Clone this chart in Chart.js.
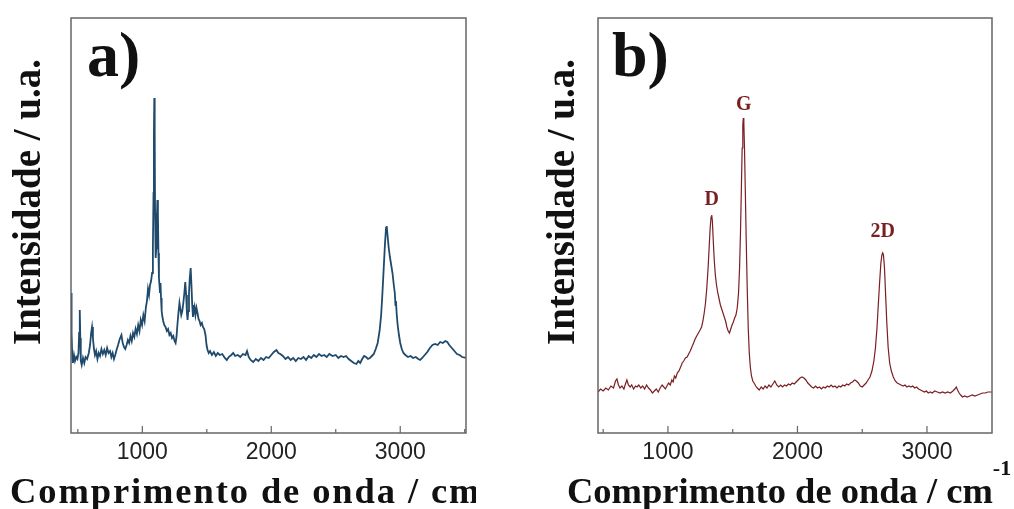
<!DOCTYPE html>
<html>
<head>
<meta charset="utf-8">
<script src="https://cdn.jsdelivr.net/npm/chart.js@4.4.0/dist/chart.umd.min.js"></script>
<style>
  html, body { margin: 0; padding: 0; background: #fff; }
  #wrap { position: relative; width: 1014px; height: 509px; overflow: hidden; }
  #chartA { position: absolute; left: 0; top: 0; }
  #chartB { position: absolute; left: 530px; top: 0; }
</style>
</head>
<body>
<div id="wrap">
  <canvas id="chartA" width="476" height="509"></canvas>
  <canvas id="chartB" width="484" height="509"></canvas>
</div>
<script>
// Raman spectra, [wavenumber (cm-1), intensity (a.u.)]
const spectrumA = [
  [447,140],[450,125],[453,100],[457,75],[462,70],[470,78],[478,72],[488,76],[497,74],[505,80],
  [510,100],[515,123],[519,95],[523,72],[530,68],[540,75],[550,70],[560,76],[572,74],[585,80],
  [595,88],[603,100],[610,106],[617,95],[625,84],[633,78],[642,82],[652,74],[662,80],[672,77],
  [683,84],[694,79],[705,83],[716,78],[727,85],[738,80],[750,82],[760,76],[770,80],[780,74],
  [790,78],[800,83],[812,88],[825,94],[838,98],[848,90],[858,86],[868,84],[878,88],[888,93],
  [898,90],[908,97],[918,92],[928,100],[938,96],[948,104],[958,99],[968,108],[978,102],[988,113],
  [998,108],[1008,118],[1018,112],[1028,126],[1036,132],[1044,144],[1052,138],[1060,148],[1068,152],[1076,160],
  [1082,185],[1087,240],[1090,300],[1093,335],[1096,300],[1099,220],[1102,180],[1105,175],[1109,185],[1113,215],
  [1117,233],[1121,220],[1125,180],[1129,155],[1133,148],[1137,140],[1141,150],[1145,135],[1150,122],[1156,116],
  [1162,112],[1170,108],[1180,106],[1190,102],[1200,104],[1210,98],[1220,100],[1230,95],[1240,97],[1250,92],
  [1258,90],[1265,96],[1272,108],[1280,120],[1288,130],[1295,124],[1302,118],[1310,122],[1318,130],[1326,140],
  [1333,151],[1340,138],[1346,120],[1351,113],[1356,122],[1362,140],[1368,155],[1375,165],[1381,148],[1387,128],
  [1393,116],[1399,122],[1405,126],[1412,118],[1420,125],[1428,120],[1436,114],[1444,112],[1452,108],[1462,110],
  [1470,106],[1480,104],[1490,98],[1498,88],[1506,83],[1515,80],[1525,82],[1540,78],[1555,81],[1570,77],
  [1585,80],[1600,78],[1620,79],[1640,75],[1655,73],[1670,76],[1690,78],[1705,80],[1720,77],[1740,78],
  [1760,76],[1780,79],[1800,78],[1812,82],[1825,76],[1840,73],[1860,71],[1880,74],[1900,72],[1920,75],
  [1940,73],[1960,76],[1980,75],[2000,78],[2020,81],[2040,83],[2055,80],[2070,79],[2090,77],[2110,74],
  [2130,76],[2150,73],[2170,75],[2190,72],[2210,75],[2230,74],[2250,76],[2270,73],[2290,77],[2310,75],
  [2330,78],[2350,76],[2370,79],[2390,77],[2410,78],[2430,76],[2450,79],[2475,77],[2500,78],[2520,75],
  [2540,77],[2560,76],[2580,77],[2600,74],[2620,72],[2640,70],[2660,69],[2675,72],[2690,70],[2705,74],
  [2720,77],[2735,76],[2750,74],[2765,75],[2780,77],[2795,79],[2810,84],[2825,90],[2840,102],[2852,118],
  [2862,140],[2872,165],[2882,190],[2890,205],[2895,207],[2900,200],[2910,186],[2920,176],[2930,168],[2940,160],
  [2950,148],[2958,140],[2963,128],[2967,132],[2972,120],[2980,108],[2990,98],[3000,90],[3012,84],[3025,80],
  [3040,78],[3060,76],[3080,77],[3100,75],[3120,76],[3140,74],[3155,73],[3170,75],[3190,78],[3210,81],
  [3230,85],[3250,88],[3270,89],[3290,88],[3310,91],[3330,90],[3350,92],[3365,91],[3380,88],[3400,85],
  [3420,82],[3440,79],[3460,78],[3480,76],[3510,75]
];

const spectrumB = [
  [460,41],[480,44],[500,42],[520,45],[540,43],[560,47],[580,45],[595,52],[606,54],[618,48],
  [630,45],[645,47],[660,44],[672,49],[683,53],[695,48],[708,46],[720,48],[735,44],[750,47],
  [762,46],[775,48],[790,45],[805,47],[820,44],[835,48],[850,45],[865,43],[880,40],[895,42],
  [910,44],[925,41],[940,45],[955,48],[968,46],[980,44],[992,47],[1005,50],[1018,48],[1030,53],
  [1040,51],[1050,57],[1060,55],[1072,60],[1085,62],[1098,66],[1110,70],[1122,72],[1135,75],[1148,76],
  [1160,79],[1172,82],[1185,86],[1198,90],[1210,94],[1222,97],[1235,100],[1248,103],[1260,106],[1270,112],
  [1280,120],[1290,130],[1300,145],[1310,165],[1318,185],[1326,205],[1333,216],[1338,218],[1343,212],[1350,192],
  [1358,172],[1366,158],[1375,148],[1385,140],[1395,134],[1405,128],[1415,124],[1425,120],[1435,116],[1445,112],
  [1455,106],[1465,102],[1475,100],[1485,104],[1495,108],[1505,111],[1515,115],[1525,118],[1535,125],[1545,140],
  [1553,165],[1560,200],[1567,245],[1573,285],[1578,308],[1582,315],[1586,310],[1591,285],[1597,245],[1604,195],
  [1612,145],[1620,105],[1628,80],[1636,66],[1645,57],[1655,52],[1665,50],[1678,47],[1690,45],[1705,43],
  [1720,46],[1735,44],[1750,47],[1765,45],[1780,48],[1795,46],[1810,49],[1825,52],[1840,48],[1855,46],
  [1870,48],[1885,46],[1900,48],[1915,47],[1930,49],[1945,48],[1960,50],[1975,49],[1990,51],[2005,53],
  [2020,55],[2035,56],[2050,55],[2065,53],[2080,50],[2095,48],[2110,46],[2125,45],[2140,47],[2155,45],
  [2170,46],[2185,44],[2200,46],[2215,45],[2230,47],[2245,46],[2260,48],[2275,46],[2290,47],[2305,45],
  [2320,47],[2335,46],[2350,48],[2365,47],[2380,49],[2395,48],[2410,50],[2425,51],[2440,53],[2455,52],
  [2470,50],[2485,47],[2500,46],[2515,48],[2530,50],[2545,53],[2560,56],[2575,62],[2590,72],[2602,85],
  [2614,105],[2624,128],[2634,150],[2644,170],[2652,178],[2658,180],[2664,178],[2672,165],[2680,140],[2690,110],
  [2700,86],[2712,70],[2725,62],[2740,56],[2755,52],[2770,50],[2785,49],[2800,48],[2815,47],[2830,48],
  [2845,46],[2860,47],[2875,46],[2890,47],[2905,45],[2920,46],[2935,44],[2950,43],[2965,42],[2980,41],
  [2995,42],[3010,40],[3025,41],[3040,40],[3060,42],[3080,41],[3100,40],[3120,41],[3140,40],[3160,41],
  [3180,40],[3200,42],[3215,44],[3226,46],[3236,43],[3248,40],[3260,38],[3275,36],[3290,37],[3310,36],
  [3330,37],[3350,38],[3370,37],[3390,38],[3410,39],[3430,40],[3450,40],[3470,41],[3490,41],[3502,41]
];

const majorTicks = [1000, 2000, 3000];
const minorTicks = [500, 1500, 2500, 3500];

// peak labels for panel b
const peakNames = ['D', 'G', '2D'];
const peakWave = [1338, 1586, 2658];
const peakHeight = [228, 323, 196];

const serif = '"Liberation Serif", "Times New Roman", serif';

// box, inward ticks and all the text around the plot
const framePlugin = {
  id: 'frame',
  afterDatasetsDraw(chart, args, opts) {
    const { ctx, chartArea: a, scales: { x, y } } = chart;
    ctx.save();

    ctx.strokeStyle = '#666';
    ctx.lineWidth = 1.5;
    ctx.strokeRect(a.left, a.top, a.right - a.left, a.bottom - a.top);

    ctx.lineWidth = 1.2;
    ctx.beginPath();
    majorTicks.forEach(v => {
      const px = x.getPixelForValue(v);
      ctx.moveTo(px, a.bottom);
      ctx.lineTo(px, a.bottom - 7);
    });
    minorTicks.forEach(v => {
      const px = x.getPixelForValue(v);
      if (px <= a.left + 1 || px >= a.right - 1) return;
      ctx.moveTo(px, a.bottom);
      ctx.lineTo(px, a.bottom - 4);
    });
    ctx.stroke();

    ctx.fillStyle = '#111';
    ctx.textAlign = 'left';
    ctx.textBaseline = 'alphabetic';
    ctx.font = 'bold 64px ' + serif;
    ctx.fillText(opts.letter, opts.letterX, 76);

    // y title, reads bottom to top
    ctx.save();
    ctx.translate(opts.yTitleX, 202);
    ctx.rotate(-Math.PI / 2);
    ctx.textAlign = 'center';
    ctx.font = 'bold 39px ' + serif;
    ctx.fillText('Intensidade / u.a.', 0, 0);
    ctx.restore();

    // x title with superscript
    ctx.font = 'bold 36.5px ' + serif;
    ctx.letterSpacing = opts.xSpacing + 'px';
    const main = 'Comprimento de onda / cm';
    ctx.fillText(main, opts.xTitleX, 503);
    const w = ctx.measureText(main).width;
    ctx.letterSpacing = '0px';
    ctx.font = 'bold 22px ' + serif;
    ctx.fillText('-1', opts.xTitleX + w, 475);

    if (opts.peaks) {
      ctx.fillStyle = '#7b1e22';
      ctx.textAlign = 'center';
      ctx.font = 'bold 20px ' + serif;
      peakNames.forEach((name, i) => {
        ctx.fillText(name, x.getPixelForValue(peakWave[i]), y.getPixelForValue(peakHeight[i]));
      });
    }
    ctx.restore();
  }
};

function makeOptions(xMin, xMax, padding, frame) {
  return {
    responsive: false,
    animation: false,
    events: [],
    layout: { padding: padding },
    plugins: {
      legend: { display: false },
      tooltip: { enabled: false },
      frame: frame
    },
    scales: {
      x: {
        type: 'linear',
        min: xMin,
        max: xMax,
        afterBuildTicks: scale => {
          scale.ticks = majorTicks.map(v => ({ value: v }));
        },
        afterFit: scale => {
          scale.height = 76;
        },
        ticks: {
          callback: v => String(v),
          font: { family: 'Liberation Sans', size: 23 },
          color: '#222',
          padding: 6,
          maxRotation: 0,
          autoSkip: false
        },
        grid: { display: false, drawTicks: false },
        border: { display: false }
      },
      y: { display: false, min: 0, max: 415 }
    }
  };
}

function makeChart(id, spectrum, color, width, options) {
  return new Chart(document.getElementById(id), {
    type: 'line',
    data: {
      datasets: [{
        data: spectrum.map(p => ({ x: p[0], y: p[1] })),
        borderColor: color,
        borderWidth: width,
        pointRadius: 0,
        tension: 0,
        fill: false
      }]
    },
    options: options,
    plugins: [framePlugin]
  });
}

makeChart('chartA', spectrumA, '#1f4a6c', 1.8,
  makeOptions(447, 3510, { left: 71, right: 10, top: 18, bottom: 0 },
    { letter: 'a)', letterX: 87, yTitleX: 40, xTitleX: 10, xSpacing: 1.9, peaks: false }));

makeChart('chartB', spectrumB, '#7b1e22', 1.2,
  makeOptions(460, 3502, { left: 68, right: 22, top: 18, bottom: 0 },
    { letter: 'b)', letterX: 82, yTitleX: 44, xTitleX: 37, xSpacing: 0, peaks: true }));
</script>
</body>
</html>
